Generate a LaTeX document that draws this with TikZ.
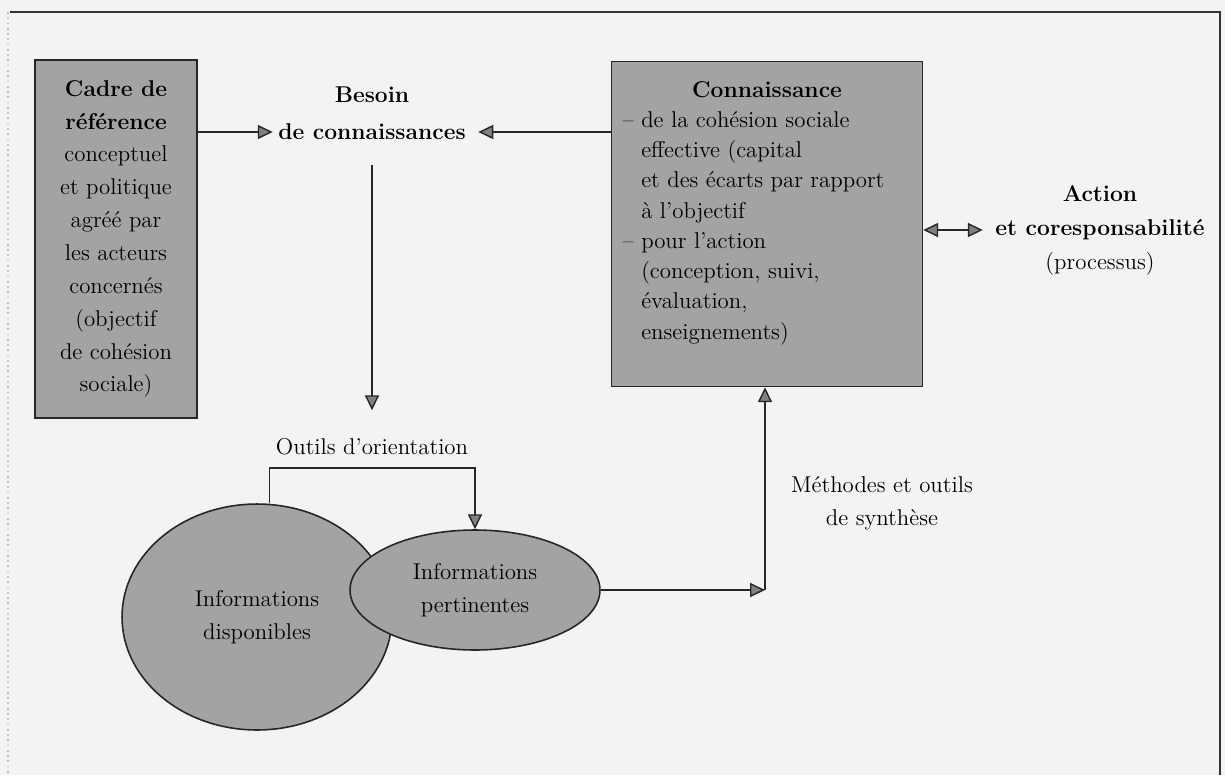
\documentclass[tikz,border=0pt]{standalone}
\usepackage{xcolor}
\usepackage{tikz}
\usetikzlibrary{arrows.meta}
\usetikzlibrary{positioning}
\usetikzlibrary{shapes.geometric}

\definecolor{papier}{RGB}{243,243,241}
\definecolor{trame}{RGB}{164,162,164}

\begin{document}
\begin{tikzpicture}[x=0.02cm,y=-0.02cm]

\tikzset{txt/.style={font=\fontsize{13}{18.7}\selectfont, inner sep=3pt},
  titre/.style={txt, font=\fontsize{13}{18.7}\selectfont\bfseries},
  bloc/.style={txt, draw=black!85, line width=0.9pt, fill=trame},
  bulle/.style={bloc, ellipse, inner sep=0pt, align=center},
  pointe/.tip={Triangle[length=8.5pt,width=8pt,fill=gray]},
  fleche/.style={draw=black!85, line width=0.8pt, -pointe},
  doublefleche/.style={fleche, pointe-pointe}
}

\fill[papier] (0,0) rectangle (1225,775);
\useasboundingbox (0,0) rectangle (1225,775);
\draw[black!80, line width=1pt] (10,12) -- (1220,12) -- (1220,775);
\draw[gray!50, dotted, line width=1pt] (8,12) -- (8,775);

\node[bloc, minimum width=3.24cm, minimum height=7.16cm, align=center] (cadre) at (116,239)
  {\textbf{Cadre de}\\\textbf{référence}\\conceptuel\\et politique\\agréé par\\les acteurs\\concernés\\(objectif\\de cohésion\\sociale)};

\node[bloc, minimum width=6.22cm, minimum height=6.5cm] (conn) at (767,224) {};
\node[titre] (conntitre) at (767,90) {Connaissance};
\node[txt, anchor=north west, align=left, font=\fontsize{13}{17.2}\selectfont] (connliste) at (617,106)
  {– de la cohésion sociale\\
   \phantom{– }effective (capital\\
   \phantom{– }et des écarts par rapport\\
   \phantom{– }à l’objectif\\
   – pour l’action\\
   \phantom{– }(conception, suivi,\\
   \phantom{– }évaluation,\\
   \phantom{– }enseignements)};

\node[titre] (besoin) at (372,132) {de connaissances};
\node[titre, above=6pt of besoin] (besoinhaut) {Besoin};

\node[titre] (action) at (1100,230) {et coresponsabilité};
\node[titre, above=3.7pt of action] (actionhaut) {Action};
\node[txt, below=0.5pt of action] (actionbas) {(processus)};

\node[txt] (outils) at (372,447) {Outils d’orientation};
\node[txt, align=center] (methodes) at (882,503) {Méthodes et outils\\de synthèse};

\node[bulle, minimum width=5.4cm, minimum height=4.52cm] (dispo) at (257,617) {Informations\\disponibles};
\node[bulle, minimum width=5cm, minimum height=2.4cm] (pert) at (475,590) {Informations\\pertinentes};

\coordinate (coude) at (765,590);

\draw[fleche] (cadre.east |- besoin) -- (besoin.west);
\draw[fleche, shorten >=4pt] (conn.west |- besoin) -- (besoin.east);
\draw[fleche, shorten <=11pt, shorten >=13pt] (besoin.south) -- (outils.north);
\draw[fleche] ([xshift=7pt]dispo.north) |- ([yshift=-4pt]outils.south) -| (pert.north);
\draw[fleche] (pert.east) -- (coude);
\draw[fleche] (coude) -- (coude |- conn.south);
\draw[doublefleche, shorten >=4pt] (conn.east |- action) -- (action.west);

\end{tikzpicture}
\end{document}
